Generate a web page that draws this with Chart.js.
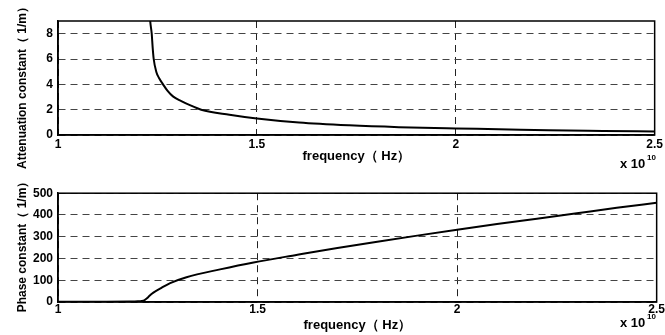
<!DOCTYPE html>
<html>
<head>
<meta charset="utf-8">
<script src="https://cdn.jsdelivr.net/npm/chart.js@4/dist/chart.umd.min.js"></script>
<style>
  body { margin: 0; background: #fff; }
  #wrap { position: relative; width: 665px; height: 335px; overflow: hidden; }
  canvas { position: absolute; left: 0; }
</style>
</head>
<body>
<div id="wrap">
  <canvas id="chartAtt" width="665" height="181" style="top:0"></canvas>
  <canvas id="chartPhase" width="665" height="154" style="top:181px"></canvas>
</div>
<script>
// frequency ticks (x 10^10 Hz)
const freqTicks = [1, 1.5, 2, 2.5];
const attTicks = [0, 2, 4, 6, 8];
const phaseTicks = [0, 100, 200, 300, 400, 500];

// attenuation constant (1/m)
const attFreq = [1.229, 1.2318, 1.2356, 1.238, 1.2406, 1.247, 1.254, 1.264, 1.275, 1.289, 1.31,
                 1.336, 1.36, 1.431, 1.5, 1.606, 1.732, 1.857, 2.0, 2.108, 2.233, 2.37, 2.5];
const attVals = [10.5, 9.0, 8.0, 6.9, 6.0, 5.0, 4.5, 4.0, 3.5, 3.05, 2.68,
                 2.3, 2.0, 1.6, 1.3, 0.98, 0.76, 0.62, 0.52, 0.46, 0.37, 0.32, 0.28];

// phase constant (1/m)
const phaseFreq = [1.0, 1.1, 1.18, 1.2, 1.21, 1.217, 1.223, 1.23, 1.239, 1.26, 1.281, 1.322,
                   1.406, 1.49, 1.6, 1.7, 1.8, 1.9, 2.0, 2.1, 2.2, 2.3, 2.4, 2.5];
const phaseVals = [1, 1.5, 2, 3, 5, 9, 17, 30, 43, 66, 87, 114,
                   150, 182, 217, 248, 277, 305, 332, 358, 383, 408, 433, 456];

Chart.defaults.font.family = "'Liberation Sans', Arial, sans-serif";
Chart.defaults.font.size = 12;
Chart.defaults.font.weight = "bold";
Chart.defaults.color = "#000";

function toPoints(xs, ys) {
    return xs.map((x, i) => ({ x: x, y: ys[i] }));
}

// box round the plot area, the y label and the "x 10^10" note
const boxPlugin = {
    id: "box",
    afterDraw(chart, args, opts) {
        const { ctx, chartArea } = chart;
        ctx.save();
        ctx.strokeStyle = "#000";
        ctx.lineWidth = 1.5;
        ctx.strokeRect(chartArea.left, chartArea.top,
            chartArea.right - chartArea.left, chartArea.bottom - chartArea.top);
        ctx.fillStyle = "#000";
        ctx.textBaseline = "alphabetic";
        ctx.textAlign = "left";
        ctx.font = "bold 13px 'Liberation Sans', Arial, sans-serif";
        ctx.fillText("x 10", 620, opts.expY);
        ctx.font = "bold 8px 'Liberation Sans', Arial, sans-serif";
        ctx.fillText("10", 647, opts.expY - 8);

        ctx.translate(23, opts.yTitleY);
        ctx.rotate(-Math.PI / 2);
        ctx.textAlign = "center";
        ctx.textBaseline = "middle";
        ctx.font = "bold 12px 'Liberation Sans', Arial, sans-serif";
        ctx.fillText(opts.yTitle, 0, 0);
        ctx.restore();
    }
};

function makeChart(id, xs, ys, yMax, yTicks, yTitle, cfg) {
    return new Chart(document.getElementById(id), {
        type: "line",
        data: {
            datasets: [{
                data: toPoints(xs, ys),
                borderColor: "#000",
                borderWidth: 2,
                pointRadius: 0,
                cubicInterpolationMode: "monotone",
                fill: false
            }]
        },
        options: {
            responsive: false,
            animation: false,
            devicePixelRatio: 1,
            layout: { padding: { left: 0, right: 8, top: cfg.padTop, bottom: 0 } },
            plugins: {
                legend: { display: false },
                tooltip: { enabled: false },
                box: { expY: cfg.expY, yTitle: yTitle, yTitleY: cfg.yTitleY }
            },
            scales: {
                x: {
                    type: "linear",
                    min: 1,
                    max: 2.5,
                    afterBuildTicks: s => { s.ticks = freqTicks.map(v => ({ value: v })); },
                    afterFit: s => { s.height = cfg.xHeight; },
                    ticks: { padding: cfg.tickPad, maxRotation: 0, callback: v => String(v) },
                    grid: { color: "#222", lineWidth: 1, drawTicks: false },
                    border: { display: true, color: "#000", width: 1.5, dash: [7, 5] },
                    title: {
                        display: true,
                        text: "frequency（ Hz）",
                        font: { size: 13, weight: "bold" },
                        padding: { top: 0, bottom: cfg.xTitlePad }
                    }
                },
                y: {
                    type: "linear",
                    min: 0,
                    max: yMax,
                    afterBuildTicks: s => { s.ticks = yTicks.map(v => ({ value: v })); },
                    afterFit: s => { s.width = 58; },
                    ticks: { padding: 5, callback: v => String(v) },
                    grid: { color: "#444", lineWidth: 1, drawTicks: false },
                    border: { display: true, color: "#000", width: 1.5, dash: [7, 5] }
                }
            }
        },
        plugins: [boxPlugin]
    });
}

makeChart("chartAtt", attFreq, attVals, 9, attTicks, "Attenuation constant（ 1/m）",
    { padTop: 21, xHeight: 46, xTitlePad: 17, expY: 168, tickPad: 2, yTitleY: 85 });
makeChart("chartPhase", phaseFreq, phaseVals, 500, phaseTicks, "Phase constant（ 1/m）",
    { padTop: 5, xHeight: 33, xTitlePad: 2, expY: 146, tickPad: 0, yTitleY: 63 });
</script>
</body>
</html>
